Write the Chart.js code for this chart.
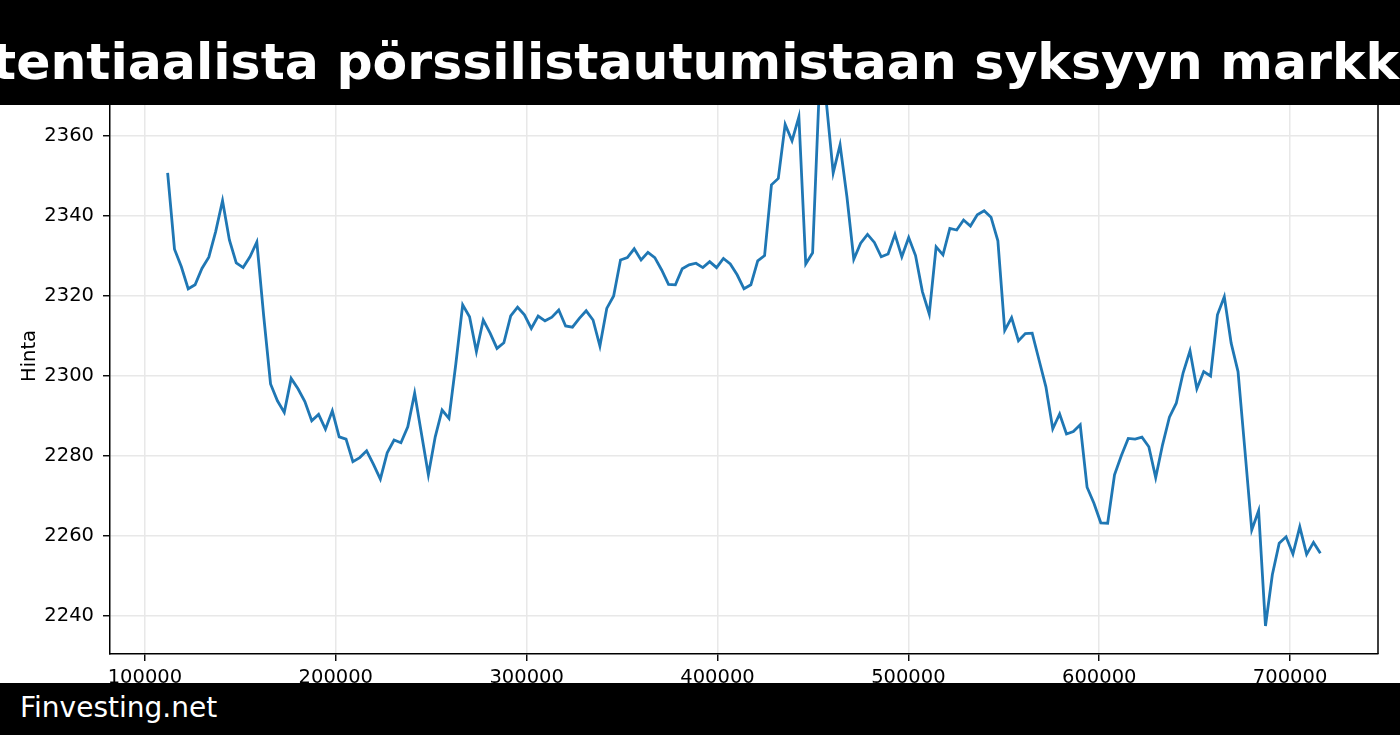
<!DOCTYPE html>
<html>
<head>
<meta charset="utf-8">
<script src="https://cdn.jsdelivr.net/npm/chart.js@4.4.1/dist/chart.umd.min.js"></script>
<style>
  html, body { margin: 0; padding: 0; background: #fff; overflow: hidden; }
  #wrap { position: relative; width: 1400px; height: 735px; }
  #chart { position: absolute; left: 0; top: 0; }
  #titlebar { position: absolute; left: 0; top: 0; width: 1400px; height: 105px; background: #000; overflow: hidden; }
  #titlebar span { position: absolute; left: -8px; top: 37.3px; white-space: nowrap; color: #fff;
    font: bold 50.5px/50.5px "DejaVu Sans"; }
  #footer { position: absolute; left: 0; top: 683px; width: 1400px; height: 52px; background: #000; overflow: hidden; }
  #footer span { position: absolute; left: 20px; top: 10.5px; white-space: nowrap; color: #fff;
    font: 28px/28px "DejaVu Sans"; }
</style>
</head>
<body>
<div id="wrap">
  <canvas id="chart" width="1400" height="735"></canvas>
  <div id="titlebar"><span>tentiaalista pörssilistautumistaan syksyyn markk</span></div>
  <div id="footer"><span>Finvesting.net</span></div>
</div>
<script>
// samples are evenly spaced along x
const xStart = 111900;
const xStep = 3595;

const prices = [
  2350.8, 2331.7, 2327.3, 2321.8, 2322.8, 2326.9, 2329.7, 2336.1, 2343.8, 2334.0,
  2328.3, 2327.1, 2329.8, 2333.5, 2315.0, 2298.0, 2293.8, 2290.9, 2299.4, 2296.8,
  2293.6, 2288.8, 2290.4, 2286.7, 2291.3, 2284.8, 2284.2, 2278.6, 2279.6, 2281.3,
  2277.9, 2274.2, 2280.8, 2284.0, 2283.3, 2287.3, 2295.7, 2285.5, 2275.3, 2284.8,
  2291.5, 2289.4, 2303.0, 2317.8, 2314.8, 2306.1, 2314.0, 2310.7, 2306.9, 2308.3,
  2315.0, 2317.2, 2315.3, 2311.9, 2315.0, 2313.8, 2314.7, 2316.5, 2312.5, 2312.2,
  2314.4, 2316.3, 2314.0, 2307.5, 2316.9, 2320.0, 2329.0, 2329.6, 2331.8, 2329.0,
  2330.9, 2329.6, 2326.5, 2322.9, 2322.8, 2326.8, 2327.8, 2328.2, 2327.1, 2328.6,
  2327.1, 2329.4, 2328.0, 2325.3, 2321.8, 2322.8, 2328.8, 2330.1, 2347.8, 2349.4,
  2362.9, 2358.8, 2364.8, 2328.0, 2330.8, 2373.0, 2368.5, 2350.8, 2357.8, 2344.8,
  2329.2, 2333.2, 2335.4, 2333.4, 2329.8, 2330.5, 2335.4, 2329.8, 2334.6, 2330.1,
  2321.1, 2315.5, 2332.3, 2330.3, 2336.9, 2336.5, 2339.0, 2337.5, 2340.3, 2341.3,
  2339.7, 2333.8, 2311.4, 2314.6, 2308.8, 2310.6, 2310.7, 2304.0, 2297.3, 2286.8,
  2290.5, 2285.5, 2286.1, 2287.8, 2272.2, 2268.2, 2263.3, 2263.2, 2275.3, 2280.1,
  2284.4, 2284.2, 2284.7, 2282.3, 2274.6, 2282.8, 2289.7, 2293.2, 2300.8, 2306.3,
  2296.8, 2301.1, 2300.0, 2315.3, 2319.8, 2308.2, 2301.1, 2281.5, 2261.5, 2266.3,
  2237.5, 2250.3, 2258.2, 2259.8, 2255.5, 2262.3, 2255.4, 2258.4, 2255.7
];

const xTicks = [100000, 200000, 300000, 400000, 500000, 600000, 700000];
const yTicks = [2240, 2260, 2280, 2300, 2320, 2340, 2360];

const points = prices.map(function (p, i) {
  return { x: xStart + i * xStep, y: p };
});

const tickFont = { family: "DejaVu Sans", size: 19.5 };
const gridColor = "#e8e8e8";

// right and top spines, like a matplotlib frame
const framePlugin = {
  id: "frame",
  afterDraw: function (chart) {
    const a = chart.chartArea;
    const c = chart.ctx;
    c.save();
    c.strokeStyle = "#000";
    c.lineWidth = 1.5;
    c.beginPath();
    c.moveTo(a.left, a.top);
    c.lineTo(a.right, a.top);
    c.lineTo(a.right, a.bottom);
    c.stroke();
    c.restore();
  }
};

new Chart(document.getElementById("chart").getContext("2d"), {
  type: "line",
  data: {
    datasets: [{
      label: "Hinta",
      data: points,
      borderColor: "#1f77b4",
      borderWidth: 2.8,
      pointRadius: 0,
      tension: 0,
      fill: false
    }]
  },
  options: {
    responsive: false,
    animation: false,
    devicePixelRatio: 1,
    layout: { padding: { left: 0, top: 58, right: 22, bottom: 0 } },
    plugins: {
      legend: { display: false },
      tooltip: { enabled: false }
    },
    scales: {
      x: {
        type: "linear",
        min: 81702,
        max: 746058,
        afterBuildTicks: function (scale) {
          scale.ticks = xTicks.map(function (v) { return { value: v }; });
        },
        afterFit: function (scale) { scale.height = 81; },
        ticks: {
          font: tickFont,
          color: "#000",
          padding: 5,
          maxRotation: 0,
          autoSkip: false,
          callback: function (value) { return String(value); }
        },
        grid: {
          color: gridColor,
          lineWidth: 1.5,
          tickColor: "#000",
          tickLength: 7,
          tickWidth: 1.4
        },
        border: { color: "#000", width: 1.5 }
      },
      y: {
        type: "linear",
        min: 2230.5,
        max: 2379.5,
        afterBuildTicks: function (scale) {
          scale.ticks = yTicks.map(function (v) { return { value: v }; });
        },
        afterFit: function (scale) { scale.width = 110; },
        title: {
          display: true,
          text: "Hinta",
          font: tickFont,
          color: "#000",
          padding: { top: 18, bottom: 0 }
        },
        ticks: {
          font: tickFont,
          color: "#000",
          padding: 9,
          callback: function (value) { return String(value); }
        },
        grid: {
          color: gridColor,
          lineWidth: 1.5,
          tickColor: "#000",
          tickLength: 7,
          tickWidth: 1.4
        },
        border: { color: "#000", width: 1.5 }
      }
    }
  },
  plugins: [framePlugin]
});
</script>
</body>
</html>
